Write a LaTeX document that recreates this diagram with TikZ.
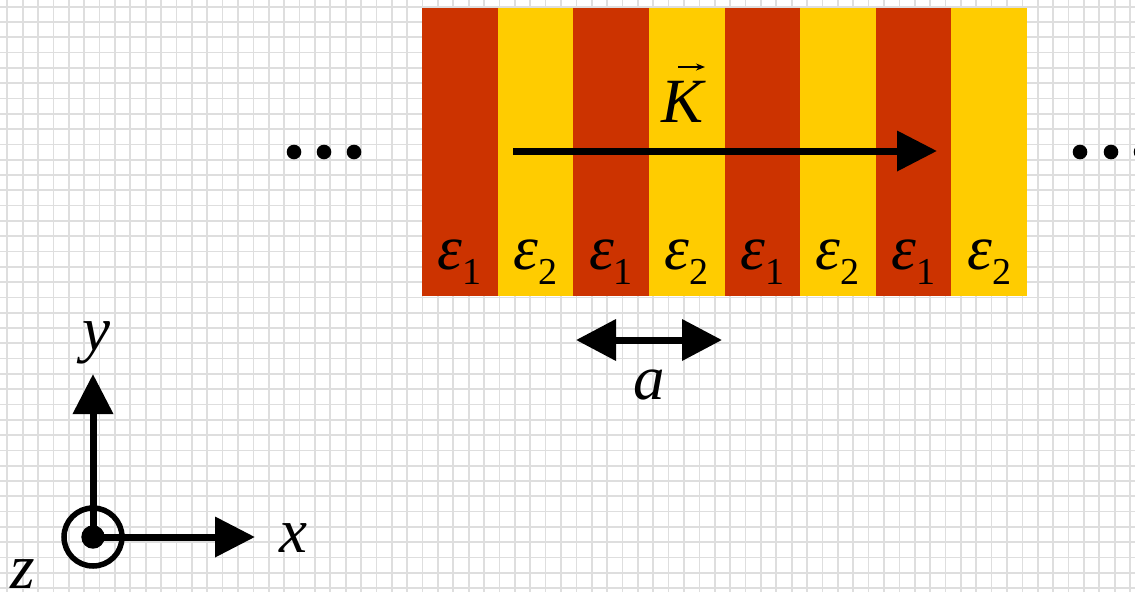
\documentclass[tikz,border=0pt]{standalone}
\usepackage{fontspec}
\setmainfont{Liberation Serif}
\usetikzlibrary{arrows.meta}
\definecolor{stripeA}{RGB}{204,51,0}
\definecolor{stripeB}{RGB}{255,204,0}
\definecolor{gridgray}{RGB}{222,222,222}
\newcommand{\bigfont}{\fontsize{63}{70}\selectfont}
\newcommand{\subfont}{\fontsize{38}{40}\selectfont}
\newcommand{\epsl}[1]{\textit{ε}\raisebox{-15pt}{\subfont #1}}
\tikzset{
  gridline/.style={draw=gridgray, line width=1.7pt},
  bigarrow/.style={line width=7pt, -{Triangle[length=40pt,width=39pt]}},
  dblarrow/.style={line width=7pt, {Triangle[length=40pt,width=40pt]}-{Triangle[length=40pt,width=40pt]}},
  lbl/.style={font=\bigfont, inner sep=0pt, anchor=base},
  dotnode/.style={circle, fill=black, minimum size=14.6pt, inner sep=0pt},
}
\begin{document}
\begin{tikzpicture}[x=1pt,y=-1pt]
\useasboundingbox (0,0) rectangle (1135,592);
\fill[white] (0,0) rectangle (1135,592);
% grid
\foreach \i in {0,...,73} {\draw[gridline] (7.3+\i*15.38,0) -- (7.3+\i*15.38,592);}
\foreach \j in {0,...,38} {\draw[gridline] (0,6.7+\j*15.3) -- (1135,6.7+\j*15.3);}
% stripes
\foreach \k in {0,2,4,6} {
  \fill[stripeA] (422+\k*75.625,8) rectangle (422+\k*75.625+75.625,296);
  \fill[stripeB] (422+\k*75.625+75.625,8) rectangle (422+\k*75.625+151.25,296);
}
% epsilon labels
\foreach \k in {0,2,4,6} {
  \node[lbl] at (422+\k*75.625+37.8,269) {\epsl{1}};
  \node[lbl] at (422+\k*75.625+113.4,269) {\epsl{2}};
}
% K vector
\node[lbl] (K) at (684,122) {\textit{K}};
\coordinate (Kvs) at (678,67);
\coordinate (Kve) at (705,67);
\draw[line width=1.6pt, -{Stealth[length=9pt,width=7pt]}] (Kvs) -- (Kve);
\coordinate (Ks) at (513,151);
\coordinate (Ke) at (937,151);
\draw[bigarrow] (Ks) -- (Ke);
% lattice constant
\coordinate (as) at (576,340);
\coordinate (ae) at (722,340);
\draw[dblarrow] (as) -- (ae);
\node[lbl] (a) at (649,399) {\textit{a}};
% dots
\node[dotnode] (l1) at (294,152) {};
\node[dotnode] (l2) at (324,152) {};
\node[dotnode] (l3) at (354,152) {};
\node[dotnode] (r1) at (1080,152) {};
\node[dotnode] (r2) at (1111,152) {};
\node[dotnode] (r3) at (1141,152) {};
% axes
\coordinate (O) at (93,537);
\coordinate (Y) at (93,374);
\coordinate (X) at (255,537);
\draw[bigarrow] (O) -- (Y);
\draw[bigarrow] (O) -- (X);
\draw[line width=5.5pt] (O) circle (29pt);
\fill (O) circle (11.7pt);
\node[lbl] (ylab) at (96,350) {\textit{y}};
\node[lbl] (xlab) at (293,552) {\textit{x}};
\node[lbl] (zlab) at (23,588) {\textit{z}};
\end{tikzpicture}
\end{document}
